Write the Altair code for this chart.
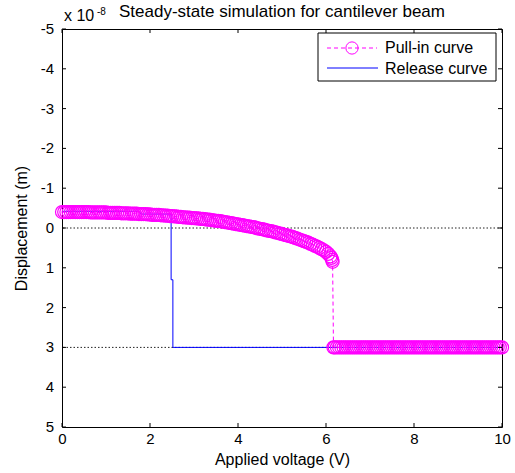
import altair as alt
import pandas as pd

# Pull-in curve, stable branch (voltage V, displacement in units of 1e-8 m)
pull_v = [0.00, 0.05, 0.10, 0.15, 0.20, 0.25, 0.30, 0.35, 0.40, 0.45,
          0.50, 0.55, 0.60, 0.65, 0.70, 0.75, 0.80, 0.85, 0.90, 0.95,
          1.00, 1.05, 1.10, 1.15, 1.20, 1.25, 1.30, 1.35, 1.40, 1.45,
          1.50, 1.55, 1.60, 1.65, 1.70, 1.75, 1.80, 1.85, 1.90, 1.95,
          2.00, 2.05, 2.10, 2.15, 2.20, 2.25, 2.30, 2.35, 2.40, 2.45,
          2.50, 2.55, 2.60, 2.65, 2.70, 2.75, 2.80, 2.85, 2.90, 2.95,
          3.00, 3.05, 3.10, 3.15, 3.20, 3.25, 3.30, 3.35, 3.40, 3.45,
          3.50, 3.55, 3.60, 3.65, 3.70, 3.75, 3.80, 3.85, 3.90, 3.95,
          4.00, 4.05, 4.10, 4.15, 4.20, 4.25, 4.30, 4.35, 4.40, 4.45,
          4.50, 4.55, 4.60, 4.65, 4.70, 4.75, 4.80, 4.85, 4.90, 4.95,
          5.00, 5.05, 5.10, 5.15, 5.20, 5.25, 5.30, 5.35, 5.40, 5.45,
          5.50, 5.55, 5.60, 5.65, 5.70, 5.75, 5.80, 5.85, 5.90, 5.95,
          6.00, 6.05, 6.10, 6.12, 6.14, 6.15]
pull_d = [-0.40, -0.40, -0.40, -0.40, -0.40, -0.40, -0.40, -0.40, -0.40, -0.40,
          -0.40, -0.40, -0.40, -0.39, -0.39, -0.39, -0.39, -0.39, -0.39, -0.39,
          -0.39, -0.38, -0.38, -0.38, -0.38, -0.38, -0.38, -0.37, -0.37, -0.37,
          -0.37, -0.36, -0.36, -0.36, -0.36, -0.35, -0.35, -0.35, -0.35, -0.34,
          -0.34, -0.33, -0.33, -0.33, -0.33, -0.32, -0.32, -0.31, -0.31, -0.30,
          -0.30, -0.29, -0.29, -0.28, -0.28, -0.27, -0.27, -0.26, -0.26, -0.25,
          -0.25, -0.24, -0.24, -0.23, -0.23, -0.22, -0.21, -0.21, -0.20, -0.19,
          -0.18, -0.18, -0.17, -0.16, -0.15, -0.14, -0.13, -0.12, -0.11, -0.10,
          -0.09, -0.08, -0.07, -0.06, -0.05, -0.04, -0.03, -0.02, -0.01, 0.01,
          0.02, 0.03, 0.04, 0.06, 0.07, 0.08, 0.09, 0.11, 0.12, 0.14,
          0.15, 0.17, 0.18, 0.20, 0.21, 0.23, 0.25, 0.27, 0.29, 0.31,
          0.33, 0.35, 0.37, 0.40, 0.42, 0.45, 0.47, 0.50, 0.53, 0.56,
          0.60, 0.65, 0.71, 0.75, 0.80, 0.85]
# Pull-in curve after pull-in (beam resting on the stop)
flat_v = [6.17, 6.20, 6.25, 6.30, 6.35, 6.40, 6.45, 6.50, 6.55, 6.60,
          6.65, 6.70, 6.75, 6.80, 6.85, 6.90, 6.95, 7.00, 7.05, 7.10,
          7.15, 7.20, 7.25, 7.30, 7.35, 7.40, 7.45, 7.50, 7.55, 7.60,
          7.65, 7.70, 7.75, 7.80, 7.85, 7.90, 7.95, 8.00, 8.05, 8.10,
          8.15, 8.20, 8.25, 8.30, 8.35, 8.40, 8.45, 8.50, 8.55, 8.60,
          8.65, 8.70, 8.75, 8.80, 8.85, 8.90, 8.95, 9.00, 9.05, 9.10,
          9.15, 9.20, 9.25, 9.30, 9.35, 9.40, 9.45, 9.50, 9.55, 9.60,
          9.65, 9.70, 9.75, 9.80, 9.85, 9.90, 9.95, 10.00]
flat_d = [3.0, 3.0, 3.0, 3.0, 3.0, 3.0, 3.0, 3.0, 3.0, 3.0,
          3.0, 3.0, 3.0, 3.0, 3.0, 3.0, 3.0, 3.0, 3.0, 3.0,
          3.0, 3.0, 3.0, 3.0, 3.0, 3.0, 3.0, 3.0, 3.0, 3.0,
          3.0, 3.0, 3.0, 3.0, 3.0, 3.0, 3.0, 3.0, 3.0, 3.0,
          3.0, 3.0, 3.0, 3.0, 3.0, 3.0, 3.0, 3.0, 3.0, 3.0,
          3.0, 3.0, 3.0, 3.0, 3.0, 3.0, 3.0, 3.0, 3.0, 3.0,
          3.0, 3.0, 3.0, 3.0, 3.0, 3.0, 3.0, 3.0, 3.0, 3.0,
          3.0, 3.0, 3.0, 3.0, 3.0, 3.0, 3.0, 3.0]

# Release curve
release_v = [0.0, 1.75, 1.8, 2.48, 2.48, 2.52, 2.52, 10.0]
release_d = [-0.42, -0.42, -0.35, -0.35, 1.3, 1.3, 3.0, 3.0]

# Reference dotted lines
ref_d = [0.0, 3.0]

x_ticks = [0, 2, 4, 6, 8, 10]
y_ticks = [-5, -4, -3, -2, -1, 0, 1, 2, 3, 4, 5]
y_tick_labels = ["-5", "-4", "-3", "-2", "-1", "0", "1", "2", "3", "4", "5"]

FONT = "Liberation Sans"
FS = 16      # axis titles / legend
TFS = 15     # tick labels
W, H = 440, 398
MAGENTA = "#FF00FF"
BLUE = "#0000FF"

pull_v_all = pull_v + flat_v
pull_d_all = pull_d + flat_d
pull = pd.DataFrame({"v": pull_v_all, "d": pull_d_all, "i": list(range(len(pull_v_all)))})
rel = pd.DataFrame({"v": release_v, "d": release_d, "i": list(range(len(release_v)))})
refs = pd.DataFrame({"d": ref_d})
xt = pd.DataFrame({"v": x_ticks})
yt = pd.DataFrame({"d": y_ticks, "lab": y_tick_labels})
one = pd.DataFrame({"k": [0]})

xs = alt.Scale(domain=[0, 10], nice=False, zero=False)
ys = alt.Scale(domain=[-5, 5], reverse=True, nice=False, zero=False)

xaxis = alt.Axis(values=x_ticks, labelExpr="'' + datum.value", ticks=False, tickSize=0,
                 domain=False, grid=False, labelPadding=4, titlePadding=5,
                 labelOverlap=False, labelFlush=False,
                 title="Applied voltage (V)")
yaxis = alt.Axis(values=y_ticks, labels=False, ticks=False, tickSize=0,
                 domain=False, grid=False, titlePadding=33,
                 title="Displacement (m)")

ref_layer = alt.Chart(refs).mark_rule(color="#222222", strokeDash=[1.5, 2], strokeWidth=1).encode(
    y=alt.Y("d:Q", scale=ys, axis=yaxis)
)

pull_line = alt.Chart(pull).mark_line(color=MAGENTA, strokeDash=[4, 3], strokeWidth=1).encode(
    x=alt.X("v:Q", scale=xs, axis=xaxis),
    y=alt.Y("d:Q", scale=ys, axis=yaxis),
    order="i:Q",
)
pull_pts = alt.Chart(pull).mark_point(shape="circle", filled=False, color=MAGENTA,
                                      size=170, strokeWidth=1.2, opacity=1).encode(
    x=alt.X("v:Q", scale=xs),
    y=alt.Y("d:Q", scale=ys),
)
rel_line = alt.Chart(rel).mark_line(color=BLUE, strokeWidth=1).encode(
    x=alt.X("v:Q", scale=xs),
    y=alt.Y("d:Q", scale=ys),
    order="i:Q",
)

# y tick labels drawn through the y scale
ylabels = alt.Chart(yt).mark_text(font=FONT, fontSize=TFS, align="right", baseline="middle",
                                  color="black").encode(
    y=alt.Y("d:Q", scale=ys), x=alt.value(-8), text="lab:N")

# inward ticks on all four sides
tick_style = dict(color="black", strokeWidth=1)
xt_bot = alt.Chart(xt).mark_rule(**tick_style).encode(
    x=alt.X("v:Q", scale=xs), y=alt.value(H), y2=alt.value(H - 4))
xt_top = alt.Chart(xt).mark_rule(**tick_style).encode(
    x=alt.X("v:Q", scale=xs), y=alt.value(0), y2=alt.value(4))
yt_left = alt.Chart(yt).mark_rule(**tick_style).encode(
    y=alt.Y("d:Q", scale=ys), x=alt.value(0), x2=alt.value(4))
yt_right = alt.Chart(yt).mark_rule(**tick_style).encode(
    y=alt.Y("d:Q", scale=ys), x=alt.value(W), x2=alt.value(W - 4))

# title and exponent label
title = alt.Chart(one).mark_text(text="Steady-state simulation for cantilever beam", font=FONT,
                                 fontSize=17, align="center", baseline="alphabetic", color="black").encode(
    x=alt.value(220), y=alt.value(-12))
exp_base = alt.Chart(one).mark_text(text="x 10", font=FONT, fontSize=16, align="left",
                                    baseline="alphabetic", color="black").encode(
    x=alt.value(2), y=alt.value(-8))
exp_sup = alt.Chart(one).mark_text(text="-8", font=FONT, fontSize=10, align="left",
                                   baseline="alphabetic", color="black").encode(
    x=alt.value(35), y=alt.value(-14))

# legend
leg_box = alt.Chart(one).mark_rect(fill="white", stroke="black", strokeWidth=1).encode(
    x=alt.value(256), x2=alt.value(434), y=alt.value(4), y2=alt.value(52))
leg_l1 = alt.Chart(one).mark_rule(color=MAGENTA, strokeDash=[4, 3], strokeWidth=1).encode(
    x=alt.value(265), x2=alt.value(315), y=alt.value(19))
leg_p1 = alt.Chart(one).mark_point(shape="circle", filled=False, color=MAGENTA, size=150,
                                   strokeWidth=1, opacity=1).encode(
    x=alt.value(290), y=alt.value(19))
leg_t1 = alt.Chart(one).mark_text(text="Pull-in curve", font=FONT, fontSize=FS, align="left",
                                  baseline="middle", color="black").encode(
    x=alt.value(323), y=alt.value(19))
leg_l2 = alt.Chart(one).mark_rule(color=BLUE, strokeWidth=1).encode(
    x=alt.value(265), x2=alt.value(316), y=alt.value(39))
leg_t2 = alt.Chart(one).mark_text(text="Release curve", font=FONT, fontSize=FS, align="left",
                                  baseline="middle", color="black").encode(
    x=alt.value(323), y=alt.value(40))

chart = alt.layer(
    ref_layer, rel_line, pull_line, pull_pts,
    xt_bot, xt_top, yt_left, yt_right, ylabels,
    title, exp_base, exp_sup,
    leg_box, leg_l1, leg_p1, leg_t1, leg_l2, leg_t2,
).properties(
    width=W, height=H,
    padding={"left": 62, "top": 29, "right": 13, "bottom": 46},
    autosize=alt.AutoSizeParams(type="none"),
    background="white",
).configure_view(
    stroke="black", strokeWidth=1
).configure_axis(
    labelFont=FONT, labelFontSize=TFS, labelColor="black",
    titleFont=FONT, titleFontSize=FS, titleFontWeight="normal", titleColor="black",
)

chart.save("out.html", embed_options={"renderer": "svg", "actions": False})
